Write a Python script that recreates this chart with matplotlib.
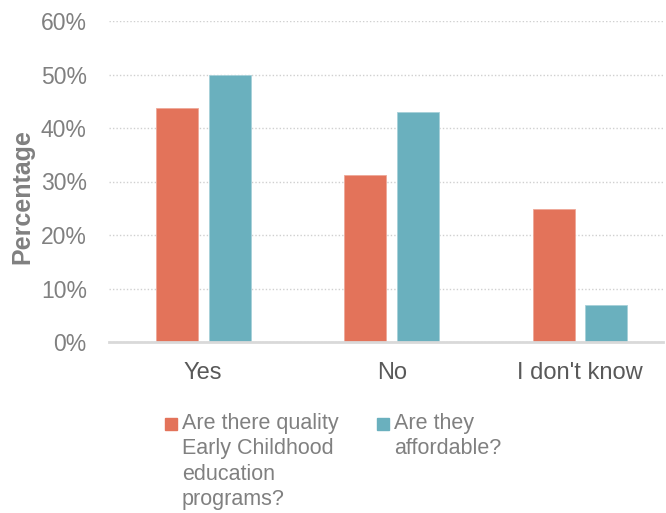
import matplotlib.pyplot as plt
import numpy as np
from matplotlib.patches import Rectangle

plt.rcParams['font.family'] = ['Liberation Sans', 'DejaVu Sans']

categories = ['Yes', 'No', "I don't know"]
quality = [43.8, 31.2, 24.9]
affordable = [50.0, 42.9, 7.0]
series_labels = ['Are there quality\nEarly Childhood\neducation\nprograms?', 'Are they\naffordable?']
yticks = [0, 10, 20, 30, 40, 50, 60]

c_orange = '#E3735A'
c_teal = '#6AB0BE'
grey = '#808080'

fig = plt.figure(figsize=(6.66, 5.13), dpi=100)
ax = fig.add_axes([109 / 666, 1 - 342 / 513, (663 - 109) / 666, (342 - 21) / 513])

x = np.arange(len(categories))
w = 0.223
off = 0.14
ax.bar(x - off, quality, w, color=c_orange, edgecolor='#eea898', linewidth=0.6, zorder=3)
ax.bar(x + off, affordable, w, color=c_teal, edgecolor='#a6d0d9', linewidth=0.6, zorder=3)

ax.set_xlim(-0.5, 2.44)
ax.set_ylim(0, 60)
ax.set_yticks(yticks)
ax.set_yticklabels([f'{v}%' for v in yticks])
ax.set_xticks(x)
ax.set_xticklabels(categories)
ax.tick_params(axis='y', length=0, pad=16, labelsize=16.5, labelcolor=grey)
ax.tick_params(axis='x', length=0, pad=14.5, labelsize=17, labelcolor='#595959')

ax.grid(axis='y', color='#d0d0d0', linestyle=(0, (1, 1.5)), linewidth=1, zorder=0)
for s in ['top', 'right', 'left']:
    ax.spines[s].set_visible(False)
ax.spines['bottom'].set_color('#d9d9d9')
ax.spines['bottom'].set_linewidth(2)
ax.spines['bottom'].set_zorder(4)

fig.text(22 / 666, 1 - 197 / 513, 'Percentage', fontsize=18, fontweight='bold', color=grey,
         rotation=90, ha='center', va='center')

# legend, drawn by hand so the square sits on the first line
for col, lab, x0 in [(c_orange, series_labels[0], 165), (c_teal, series_labels[1], 377)]:
    fig.patches.append(Rectangle((x0 / 666, 1 - 430 / 513), 12 / 666, 12 / 513,
                                 transform=fig.transFigure, color=col))
    fig.text((x0 + 17) / 666, 1 - 413 / 513, lab, fontsize=15.5, color=grey,
             va='top', ha='left', linespacing=1.27)

fig.savefig('out.png', dpi=100)
